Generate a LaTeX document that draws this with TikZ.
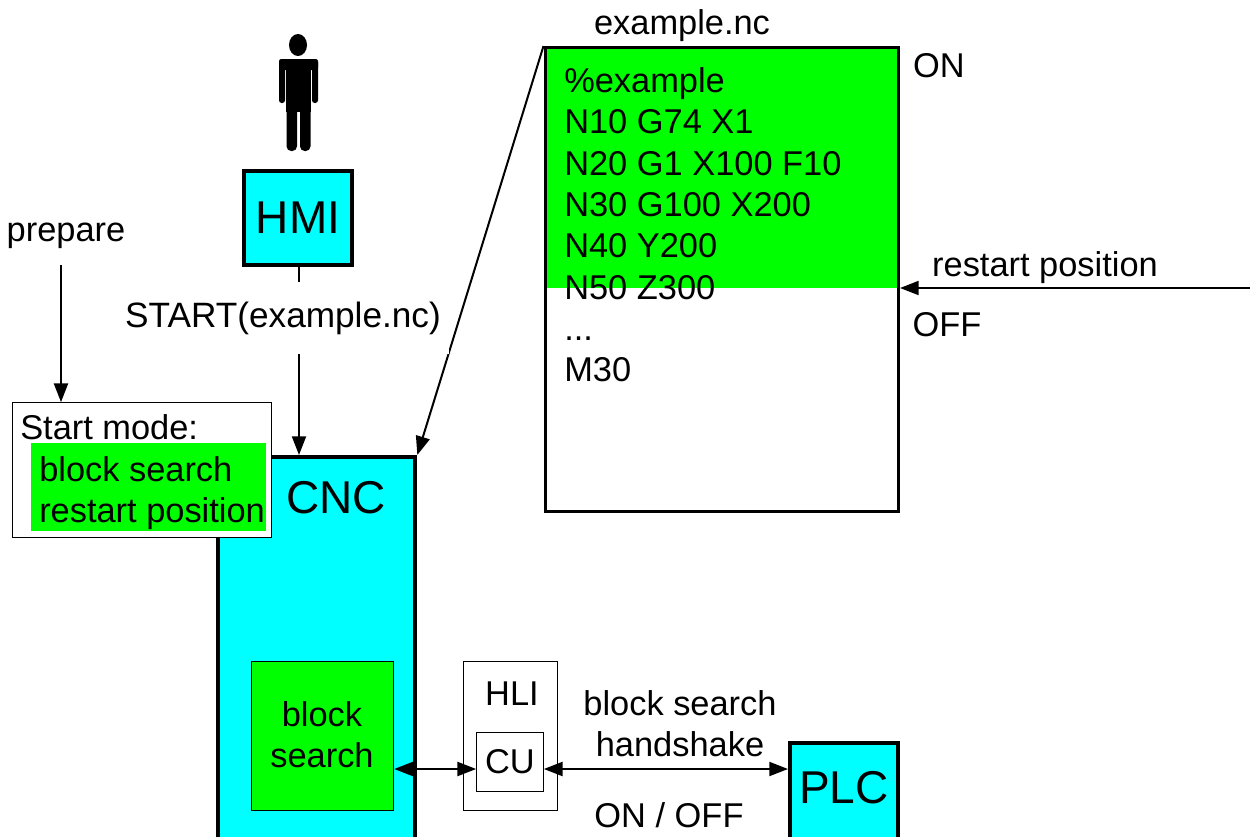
\documentclass[tikz,border=0pt]{standalone}
\usepackage{fontspec}
\setmainfont{Liberation Sans}
\usetikzlibrary{arrows.meta}
\definecolor{cncblue}{RGB}{0,255,255}
\definecolor{zonegreen}{RGB}{0,255,0}

\begin{document}
\begin{tikzpicture}[x=0.75pt,y=-0.75pt]
\tikzset{every node/.style={inner sep=0pt,font=\fontsize{25.8}{31}\selectfont}}
\tikzset{bigfont/.style={font=\fontsize{34.5}{40}\selectfont}}
\tikzset{bigbox/.style={draw,line width=3pt,fill=cncblue,bigfont}}
\tikzset{thinbox/.style={draw,line width=0.8pt,fill=white}}
\tikzset{greenbox/.style={fill=zonegreen}}
\tikzset{link/.style={line width=1.5pt,-{Triangle[length=14pt,width=10.5pt]}}}
\tikzset{biglink/.style={line width=1.5pt,{Triangle[length=14pt,width=10.5pt]}-{Triangle[length=14pt,width=10.5pt]}}}

\path[use as bounding box,clip] (0,0) rectangle (1250,836);

% operator
\fill (298,45) ellipse [x radius=9,y radius=11];
\fill[rounded corners=2pt] (279,59) rectangle (318,70);
\foreach \xarm in {279,312}
  \fill[rounded corners=2pt] (\xarm,59) rectangle (\xarm+6,103);
\fill (286,59) rectangle (311,112);
\foreach \xleg in {286.5,300}
  \fill[rounded corners=3.5pt] (\xleg,100) rectangle (\xleg+10.5,151);

% main blocks
\node[bigbox,minimum width=81pt,minimum height=70.5pt] (hmi) at (298,218) {HMI};
\node[bigbox,minimum width=148pt,minimum height=300pt,anchor=north west] (cnc) at (216,455) {};
\node[bigfont] (cnctext) at (336,498) {CNC};
\node[bigbox,minimum width=81pt,minimum height=150pt,anchor=north west] (plc) at (788,741) {};
\node[bigfont] (plctext) at (844,788) {PLC};

% part program
\node[greenbox,minimum width=265pt,minimum height=180pt,anchor=north west] (onzone) at (544,48) {};
\node[draw,line width=2.4pt,minimum width=265pt,minimum height=348pt,anchor=north west] (program) at (543.5,46) {};
\node[align=left,anchor=west] (code) at (564,225) {\%example\\N10 G74 X1\\N20 G1 X100 F10\\N30 G100 X200\\N40 Y200\\N50 Z300\\...\\M30};
\node (progname) at (682,26) {example.nc};
\node (ontext) at (939,66) {ON};
\node (offtext) at (947,325) {OFF};
\node (restarttext) at (1045,268) {restart position};
\coordinate (restartin) at (1250,288);
\draw[link] (restartin) -- (restartin -| program.east);

% connections to CNC
\draw[link] ([xshift=0.75pt]hmi.south) -- ([xshift=0.75pt]hmi.south |- cnc.north);
\draw[link] (program.north west) -- (cnc.north east);
\node[fill=white,inner xsep=6pt,minimum height=54pt,font=\fontsize{26.4}{31}\selectfont] (starttext) at (283,318) {START(example.nc)};

% start mode
\node (preparetext) at (66,236) {prepare};
\coordinate (prepareout) at (61,265);
\node[thinbox,minimum width=194pt,minimum height=101pt] (modebox) at (142,470) {};
\draw[link] (prepareout) -- (prepareout |- modebox.north);
\node[anchor=west] (modetext) at (20,427) {Start mode:};
\node[greenbox,minimum width=176pt,minimum height=66pt] (modezone) at (148.5,487) {};
\node[align=left,anchor=west] (modelist) at (39,493) {block search\\restart position};

% block search and handshake
\node[greenbox,draw,line width=0.6pt,minimum width=107pt,minimum height=112pt] (search) at (322.5,736) {};
\node[align=center] (searchtext) at (322,735) {block\\search};
\node[thinbox,minimum width=71pt,minimum height=112pt] (hli) at (510.5,736) {};
\node (hlitext) at (512,694) {HLI};
\node[thinbox,minimum width=50pt,minimum height=44pt] (cu) at (510,762) {CU};
\coordinate (hsline) at (600,769);
\draw[biglink] (search.east |- hsline) -- (cu.west |- hsline);
\draw[biglink] (cu.east |- hsline) -- (plc.west |- hsline);
\node[align=center] (hstext) at (680,724) {block search\\handshake};
\node (onofftext) at (669,815) {ON / OFF};

\end{tikzpicture}
\end{document}
